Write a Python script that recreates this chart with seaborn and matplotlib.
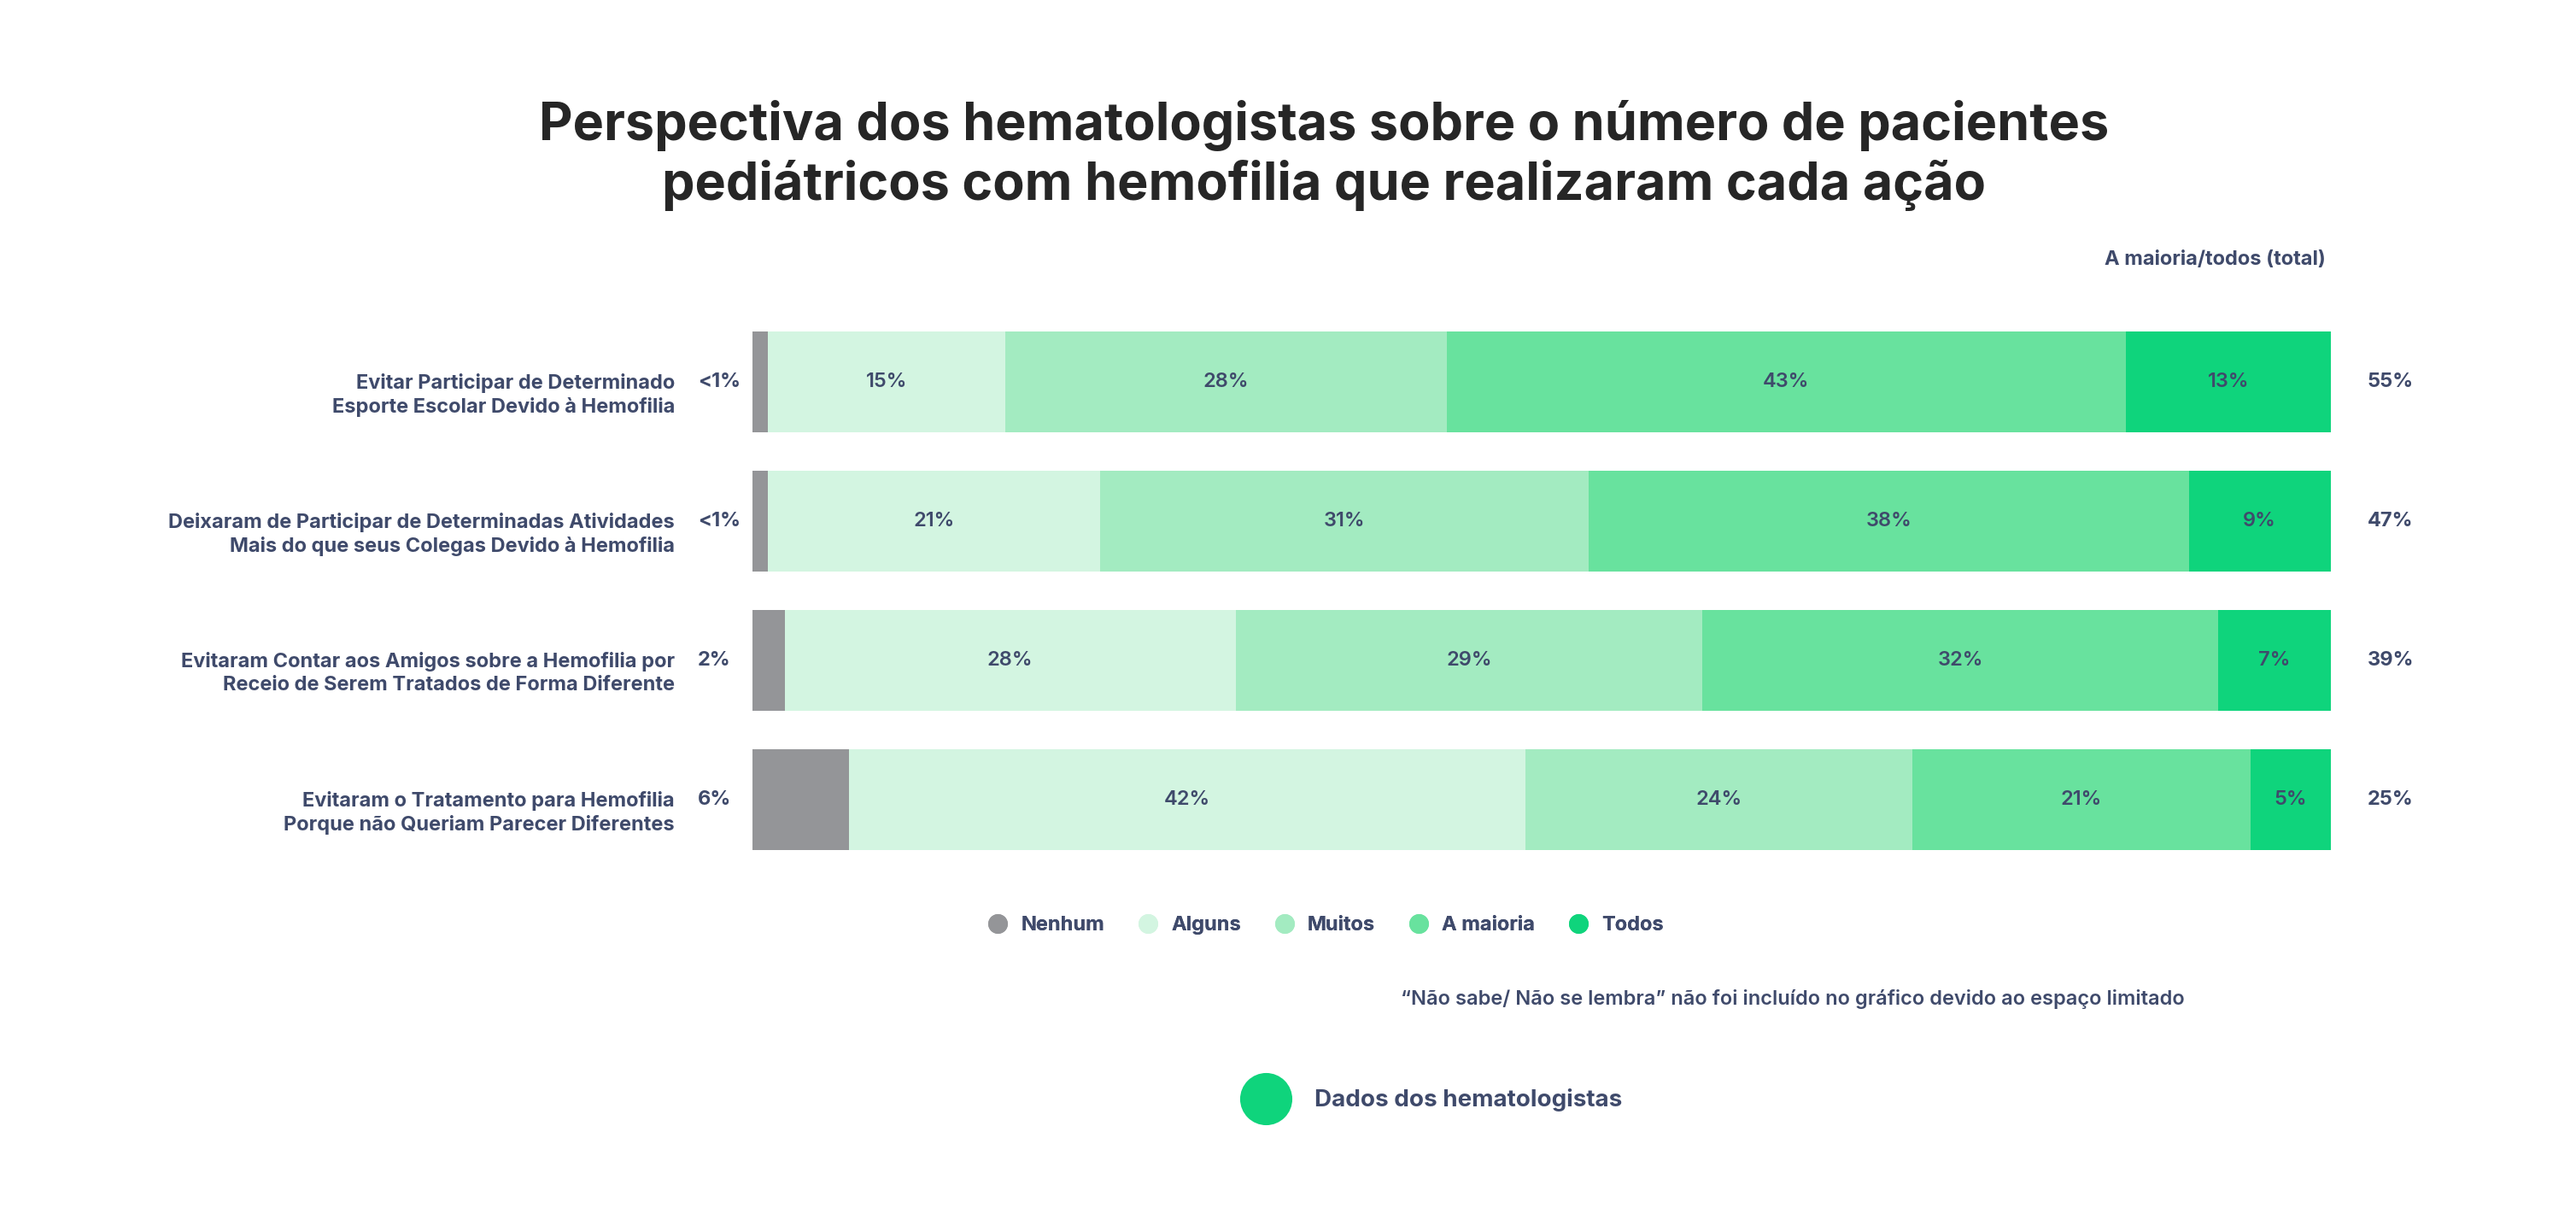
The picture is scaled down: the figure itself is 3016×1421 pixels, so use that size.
import numpy as np
import pandas as pd
import matplotlib.pyplot as plt
from matplotlib.lines import Line2D
import seaborn as sns

# values
categories = [
    "Evitar Participar de Determinado\nEsporte Escolar Devido à Hemofilia",
    "Deixaram de Participar de Determinadas Atividades\nMais do que seus Colegas Devido à Hemofilia",
    "Evitaram Contar aos Amigos sobre a Hemofilia por\nReceio de Serem Tratados de Forma Diferente",
    "Evitaram o Tratamento para Hemofilia\nPorque não Queriam Parecer Diferentes",
]
levels = ["Nenhum", "Alguns", "Muitos", "A maioria", "Todos"]
nenhum = [1, 1, 2, 6]
alguns = [15, 21, 28, 42]
muitos = [28, 31, 29, 24]
maioria = [43, 38, 32, 21]
todos = [13, 9, 7, 5]
nenhum_labels = ["<1%", "<1%", "2%", "6%"]
totals = [55, 47, 39, 25]

colors = ["#949598", "#d3f5e1", "#a3ebc1", "#68e29e", "#0fd47c"]
text_color = "#3f4a6b"

sns.set_style("white")
plt.rcParams["font.family"] = ["Inter", "DejaVu Sans"]

df = pd.DataFrame({"categoria": categories, "Nenhum": nenhum, "Alguns": alguns,
                   "Muitos": muitos, "A maioria": maioria, "Todos": todos})
# bars fill the full width (the "don't know" share is left out)
shares = df[levels].div(df[levels].sum(axis=1), axis=0) * 100
cum = shares.cumsum(axis=1)
for lev in levels:
    df["cum_" + lev] = cum[lev]

fig = plt.figure(figsize=(30.16, 14.21), dpi=100)
ax = fig.add_axes([0.2921, 0.2840, 0.6127, 0.4588])

# stacked bars: draw the widest cumulative layer first
for lev, col in reversed(list(zip(levels, colors))):
    sns.barplot(data=df, y="categoria", x="cum_" + lev, orient="h", color=col,
                saturation=1, width=0.72, linewidth=0, ax=ax)

ax.set_xlim(0, 100)
ax.set_ylim(3.5, -0.5)
ax.set_xticks([])
ax.set_yticks([])
ax.set_xlabel("")
ax.set_ylabel("")
sns.despine(ax=ax, left=True, bottom=True)

fs = 17
for i in range(len(categories)):
    ax.text(-4.92, i + 0.095, categories[i], ha="right", va="center", fontsize=fs,
            fontweight="bold", color=text_color, linespacing=1.3, clip_on=False)
    ax.text(-3.46, i, nenhum_labels[i], ha="left", va="center", fontsize=fs,
            fontweight="bold", color=text_color, clip_on=False)
    ax.text(102.3, i, f"{totals[i]}%", ha="left", va="center", fontsize=fs,
            fontweight="bold", color=text_color, clip_on=False)
    for lev in levels[1:]:
        left = cum.loc[i, lev] - shares.loc[i, lev]
        ax.text(left + shares.loc[i, lev] / 2, i, f"{df.loc[i, lev]}%", ha="center",
                va="center", fontsize=fs, fontweight="semibold", color=text_color)

fig.text(0.514, 0.872, "Perspectiva dos hematologistas sobre o número de pacientes\n"
         "pediátricos com hemofilia que realizaram cada ação",
         ha="center", va="center", fontsize=44, fontweight="bold", color="#262626",
         linespacing=1.2)
fig.text(0.9028, 0.786, "A maioria/todos (total)", ha="right", va="center",
         fontsize=fs, fontweight="bold", color=text_color)

handles = [Line2D([], [], marker="o", linestyle="", markersize=16.5, color=c,
                  markeredgewidth=0) for c in colors]
leg = ax.legend(handles, levels, loc="center", bbox_to_anchor=(0.5146, 0.2379),
                bbox_transform=fig.transFigure, ncol=5, frameon=False, fontsize=fs,
                handlelength=1.0, handletextpad=0.65, columnspacing=1.65)
for t in leg.get_texts():
    t.set_color(text_color)
    t.set_fontweight("bold")

fig.text(0.848, 0.1773, "“Não sabe/ Não se lembra” não foi incluído no gráfico devido ao espaço limitado",
         ha="right", va="center", fontsize=17, fontweight="semibold", color=text_color)

src = Line2D([], [], marker="o", linestyle="", markersize=44, color=colors[4],
             markeredgewidth=0)
leg2 = fig.legend([src], ["Dados dos hematologistas"], loc="center left",
                  bbox_to_anchor=(0.4719, 0.0936), frameon=False, fontsize=20,
                  handlelength=2.4, handletextpad=0.87)
for t in leg2.get_texts():
    t.set_color(text_color)
    t.set_fontweight("bold")
ax.add_artist(leg)

fig.savefig("out.png", dpi=100, facecolor="white")
